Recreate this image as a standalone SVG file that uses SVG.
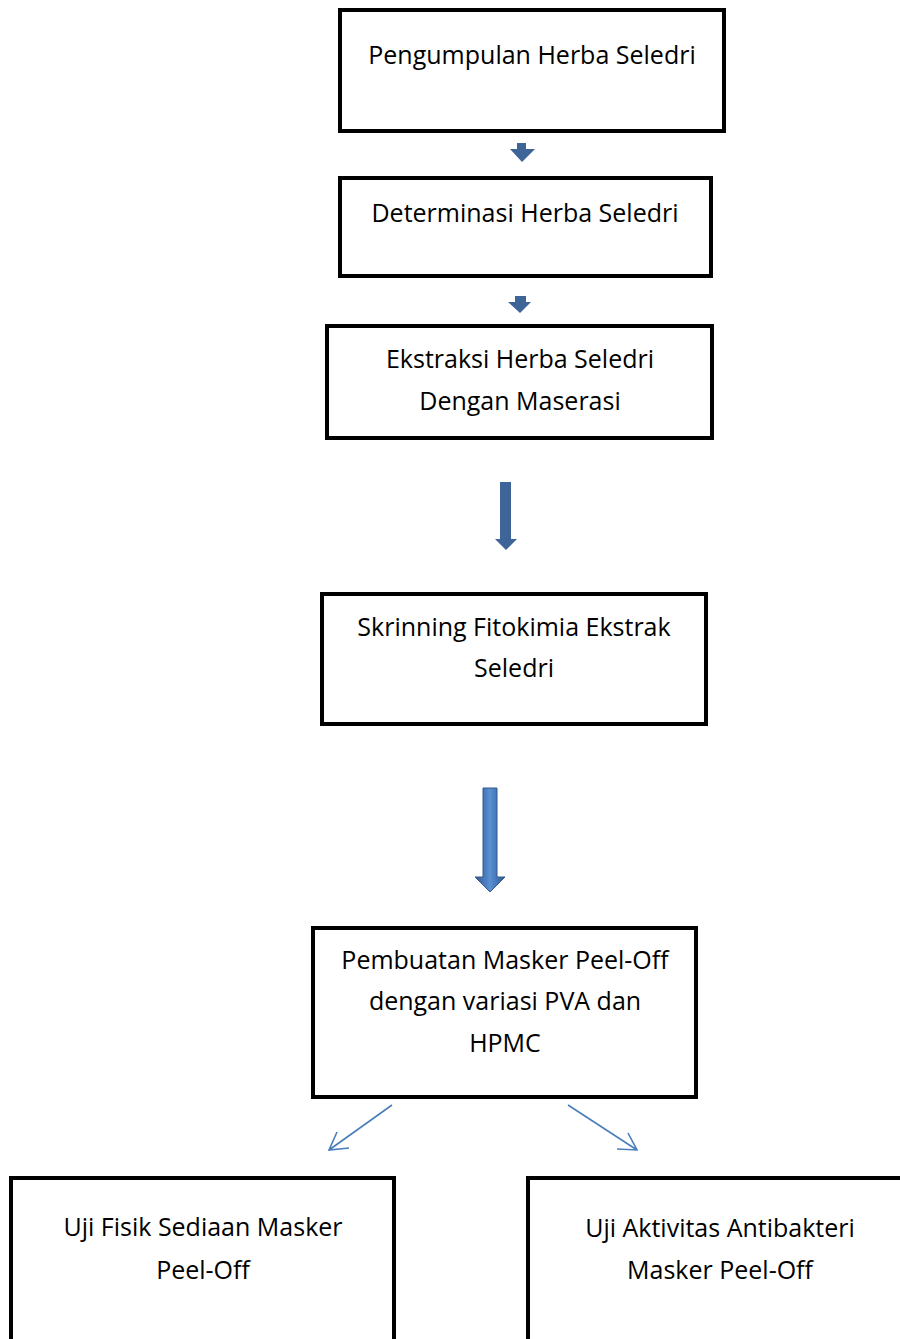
<svg xmlns="http://www.w3.org/2000/svg" width="900" height="1339" viewBox="0 0 900 1339">
<style>
.box{fill:#fff;stroke:#000;stroke-width:4}
text{font-family:"Open Sans","Noto Sans",sans-serif;font-size:25px;fill:#000;text-anchor:middle}
.blk{fill:#3f6498}
.thin{stroke:#4a7ebb;stroke-width:1.6;fill:none}
</style>
<defs>
<linearGradient id="g" x1="0" x2="1" y1="0" y2="0">
<stop offset="0" stop-color="#35598c"/>
<stop offset="0.35" stop-color="#4a7ec0"/>
<stop offset="0.5" stop-color="#5a8fd0"/>
<stop offset="0.65" stop-color="#4a7ec0"/>
<stop offset="1" stop-color="#35598c"/>
</linearGradient>
</defs>
<rect width="900" height="1339" fill="#fff"/>
<g id="n1"><rect class="box" x="340" y="10" width="384" height="121"/><text x="532" y="64">Pengumpulan Herba Seledri</text></g>
<g id="n2"><rect class="box" x="340" y="178" width="371" height="98"/><text x="525" y="222">Determinasi Herba Seledri</text></g>
<g id="n3"><rect class="box" x="327" y="326" width="385" height="112"/><text x="520" y="368">Ekstraksi Herba Seledri</text><text x="520" y="410">Dengan Maserasi</text></g>
<g id="n4"><rect class="box" x="322" y="594" width="384" height="130"/><text x="514" y="636">Skrinning Fitokimia Ekstrak</text><text x="514" y="677">Seledri</text></g>
<g id="n5"><rect class="box" x="313" y="928" width="383" height="169"/><text x="505" y="969">Pembuatan Masker Peel-Off</text><text x="505" y="1010">dengan variasi PVA dan</text><text x="505" y="1052">HPMC</text></g>
<g id="n6"><rect class="box" x="11" y="1178" width="383" height="180"/><text x="203" y="1236">Uji Fisik Sediaan Masker</text><text x="203" y="1279">Peel-Off</text></g>
<g id="n7"><rect class="box" x="528" y="1178" width="400" height="180"/><text x="720" y="1237">Uji Aktivitas Antibakteri</text><text x="720" y="1279">Masker Peel-Off</text></g>
<g id="connectors">
<polygon class="blk" points="517,143 526,143 526,149 535,149 522,162 510,149 517,149"/>
<polygon class="blk" points="515,296 526,296 526,302 531,302 520,313 508,302 515,302"/>
<polygon class="blk" points="500,482 511,482 511,539 517,539 506,550 495,539 500,539"/>
<polygon fill="url(#g)" stroke="#35598c" stroke-width="1" points="483,788 497,788 497,877 505,877 490,892 475,877 483,877"/>
<path class="thin" d="M392,1105 L329,1150 M337,1132 L329,1150 L349,1148"/>
<path class="thin" d="M568,1105 L637,1150 M628,1133 L637,1150 L617,1149"/>
</g>
</svg>
